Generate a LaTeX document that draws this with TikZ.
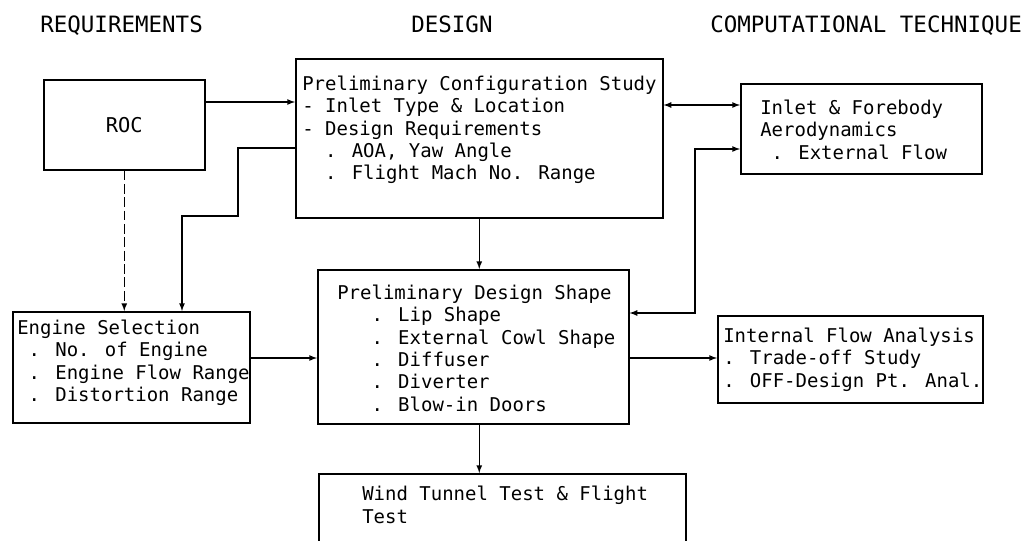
\documentclass[tikz,border=0pt]{standalone}
\usepackage{fontspec}
\usepackage{tikz}
\newfontfamily\plotfont{DejaVu Sans Mono}
\newcommand\sk{\hphantom{0}}

\begin{document}
\begin{tikzpicture}[x=0.025cm, y=-0.025cm,
  box/.style 2 args = {draw, line width=1.1pt, anchor=north west, inner sep=0pt, minimum width=#1*0.025cm, minimum height=#2*0.025cm},
  txt/.style = {anchor=north west, align=left, inner sep=0pt, font=\plotfont\fontsize{13.5}{15.9}\selectfont},
  head/.style = {anchor=base west, inner sep=0pt, font=\plotfont\fontsize{16}{18}\selectfont},
  link/.style = {line width=0.9pt, -latex}]
\useasboundingbox (0,0) rectangle (1030,540);
% column titles
\node[head](h1) at (40,32) {REQUIREMENTS}; \node[head](h2) at (411,32) {DESIGN}; \node[head](h3) at (710,32) {COMPUTATIONAL TECHNIQUE};
% boxes
\node[box={161}{90}](roc) at (43,79) {}; \node[box={367}{159}](pcs) at (295,58) {}; \node[box={241}{90}](inl) at (740,83) {};
\node[box={237}{111}](eng) at (12,311) {}; \node[box={311}{154}](pds) at (317,269) {}; \node[box={265}{87}](int) at (717,315) {};
\node[box={367}{100}](wt) at (318,473) {};
% box texts
\node[font=\plotfont\fontsize{14.5}{16}\selectfont](roc-t) at (roc.center) {ROC};
\node[txt](pcs-t) at (302,75.5) {Preliminary Configuration Study\\- Inlet Type \& Location\\- Design Requirements\\\sk\sk. AOA, Yaw Angle\\\sk\sk. Flight Mach No. Range};
\node[txt](inl-t) at (760,99.5) {Inlet \& Forebody\\Aerodynamics\\\sk. External Flow};
\node[txt](eng-t) at (17,319.5) {Engine Selection\\\sk. No. of Engine\\\sk. Engine Flow Range\\\sk. Distortion Range};
\node[txt](pds-t) at (337,284.5) {Preliminary Design Shape\\\sk\sk\sk. Lip Shape\\\sk\sk\sk. External Cowl Shape\\\sk\sk\sk. Diffuser\\\sk\sk\sk. Diverter\\\sk\sk\sk. Blow-in Doors};
\node[txt](int-t) at (723,327.5) {Internal Flow Analysis\\. Trade-off Study\\. OFF-Design Pt. Anal.};
\node[txt](wt-t) at (362,486) {Wind Tunnel Test \& Flight\\Test};
% levels and bends
\coordinate (a1) at (0,102); \coordinate (c1) at (0,105); \coordinate (d1) at (0,358);
\coordinate (k1) at (238,148); \coordinate (k2) at (182,216); \coordinate (m1) at (695,149); \coordinate (m2) at (695,313);
% connectors
\draw[link] (roc.east |- a1) -- (pcs.west |- a1);
\draw[link] (pcs.west |- k1) -- (k1) |- (k2) -- (k2 |- eng.north);
\draw[link, dash pattern=on 7pt off 2.5pt] (roc.south) -- (roc.south |- eng.north);
\draw[link, latex-latex] (pcs.east |- c1) -- (inl.west |- c1);
\draw[link, latex-latex] (inl.west |- m1) -- (m1) |- (pds.east |- m2);
\draw[link] (pcs.south) -- (pcs.south |- pds.north);
\draw[link] (pcs.south |- pds.south) -- (pcs.south |- wt.north);
\draw[link] (eng.east |- d1) -- (pds.west |- d1);
\draw[link] (pds.east |- d1) -- (int.west |- d1);
\end{tikzpicture}
\end{document}
